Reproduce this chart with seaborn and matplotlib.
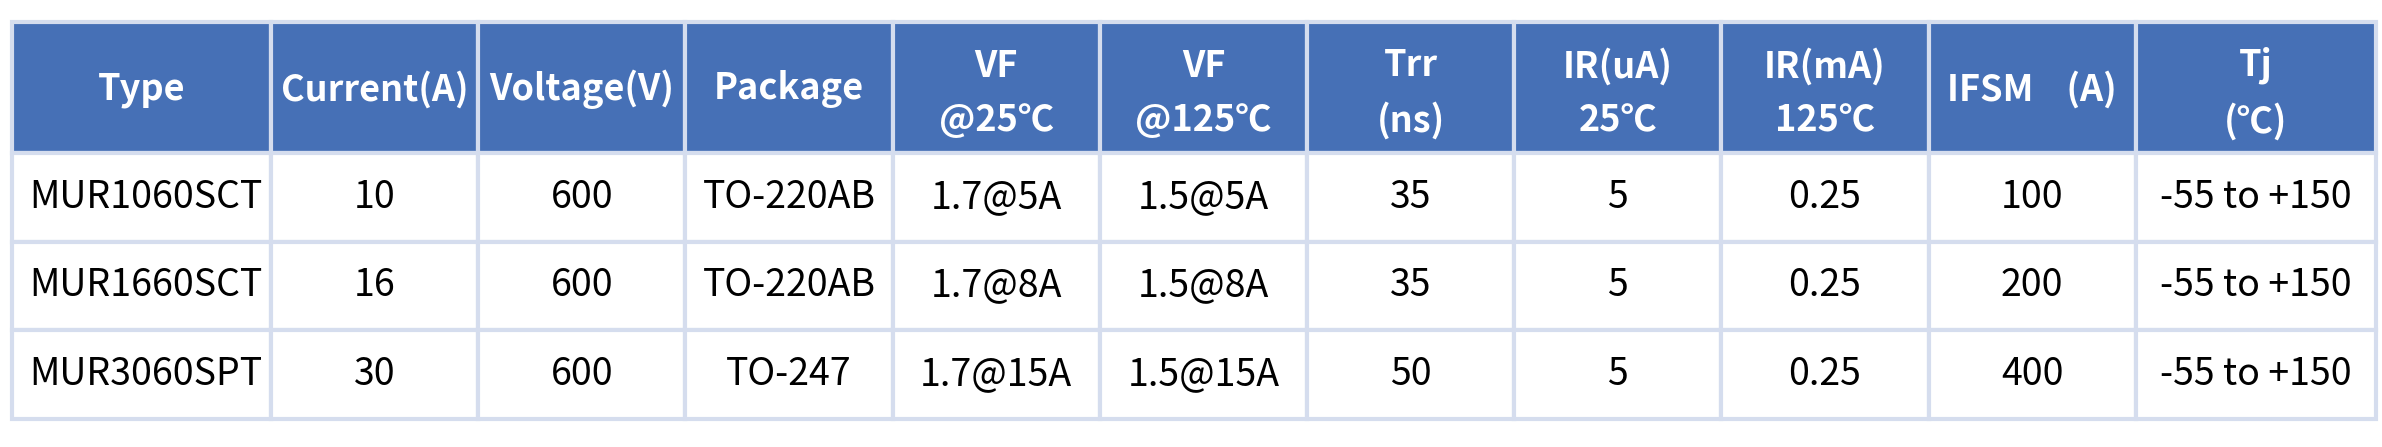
import matplotlib
matplotlib.use("Agg")
import matplotlib.pyplot as plt
from matplotlib.patches import Rectangle
import seaborn as sns

sns.set_theme(style="white")
plt.rcParams['font.family'] = ['Noto Sans CJK SC', 'DejaVu Sans']

# table content
headers = ["Type", "Current(A)", "Voltage(V)", "Package", "VF\n@25℃", "VF\n@125℃",
           "Trr\n(ns)", "IR(uA)\n25℃", "IR(mA)\n125℃", "IFSM    (A)", "Tj\n(℃)"]
types = ["MUR1060SCT", "MUR1660SCT", "MUR3060SPT"]
current = ["10", "16", "30"]
voltage = ["600", "600", "600"]
package = ["TO-220AB", "TO-220AB", "TO-247"]
vf25 = ["1.7@5A", "1.7@8A", "1.7@15A"]
vf125 = ["1.5@5A", "1.5@8A", "1.5@15A"]
trr = ["35", "35", "50"]
ir25 = ["5", "5", "5"]
ir125 = ["0.25", "0.25", "0.25"]
ifsm = ["100", "200", "400"]
tj = ["-55 to +150", "-55 to +150", "-55 to +150"]
columns = [types, current, voltage, package, vf25, vf125, trr, ir25, ir125, ifsm, tj]

# layout (pixels)
W, H = 2382, 447
left, top = 12, 22
col_w = [259] + [207.2] * 9 + [240]
header_h = 131
row_h = 88.5
header_color = "#4670B6"
line_color = "#D5DDEE"

fig = plt.figure(figsize=(W / 100, H / 100), dpi=100)
ax = fig.add_axes([0, 0, 1, 1])
ax.set_xlim(0, W)
ax.set_ylim(H, 0)
ax.axis("off")

lw = 3.0
x = left
for j, (hdr, col) in enumerate(zip(headers, columns)):
    w = col_w[j]
    ax.add_patch(Rectangle((x, top), w, header_h, facecolor=header_color,
                           edgecolor=line_color, linewidth=lw))
    two_lines = "\n" in hdr
    ax.text(x + w / 2, top + header_h / 2 + (6 if two_lines else 2), hdr,
            color="white", fontsize=26, fontweight="bold",
            ha="center", va="center", linespacing=1.6)
    for i, val in enumerate(col):
        y = top + header_h + i * row_h
        ax.add_patch(Rectangle((x, y), w, row_h, facecolor="white",
                               edgecolor=line_color, linewidth=lw))
        if j == 0:
            ax.text(x + 17, y + row_h / 2, val, color="black", fontsize=27,
                    ha="left", va="center")
        else:
            ax.text(x + w / 2, y + row_h / 2, val, color="black", fontsize=27,
                    ha="center", va="center")
    x += w

fig.savefig("out.png", dpi=100, facecolor="white")
